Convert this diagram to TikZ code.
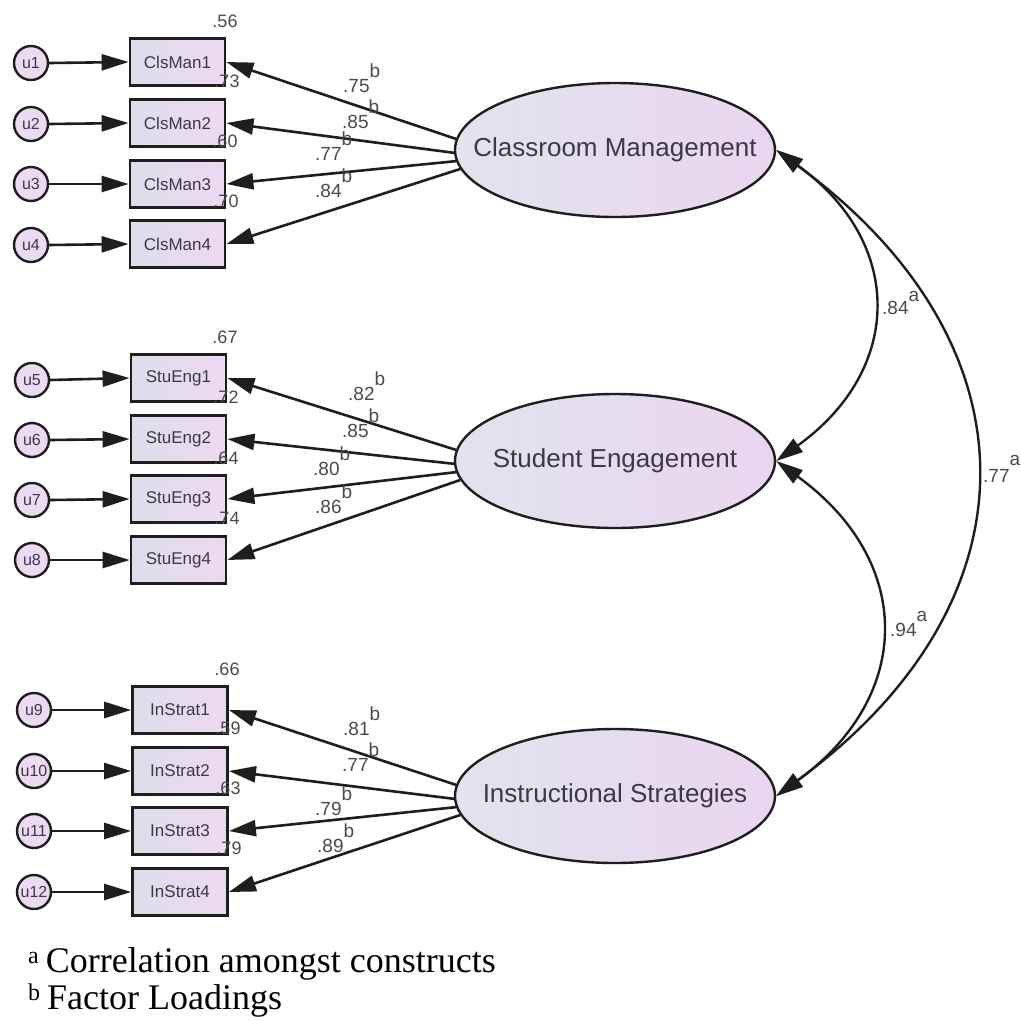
\documentclass[tikz,border=0pt]{standalone}
\usepackage{fontspec}
\setmainfont{Liberation Sans}
\newfontfamily\notefont{Liberation Serif}
\usetikzlibrary{arrows.meta,shapes.geometric}

\definecolor{inkc}{HTML}{1E1E1E}
\definecolor{txtc}{HTML}{3A3A46}
\definecolor{numc}{HTML}{4A4A4A}
\definecolor{errfill}{HTML}{EBDAF1}
\definecolor{boxl}{HTML}{DEDEEA}
\definecolor{boxr}{HTML}{EDD9F2}
\definecolor{latl}{HTML}{E2E3EC}
\definecolor{latr}{HTML}{EAD5F1}

\newcommand\upmark[2][15pt]{\raisebox{#1}{#2}}
\newcommand\zerowide[1]{\makebox[0pt]{#1}}

\begin{document}
\begin{tikzpicture}[x=1pt,y=-1pt,
  errnode/.style={circle, draw=inkc, line width=2.4pt, fill=errfill,
    minimum size=34pt, inner sep=0pt, text=txtc,
    font=\fontsize{16}{16}\selectfont},
  obsbox/.style={rectangle, draw=inkc, line width=2.8pt,
    left color=boxl, right color=boxr, minimum width=95pt,
    minimum height=47pt, inner sep=0pt, text=txtc,
    font=\fontsize{17}{17}\selectfont},
  latent/.style={ellipse, draw=inkc, line width=2.4pt,
    left color=latl, right color=latr, minimum width=320pt,
    minimum height=134pt, inner sep=0pt, text=txtc,
    font=\fontsize{26}{26}\selectfont},
  tipshape/.tip={Triangle[length=27pt,width=16pt]},
  regpath/.style={draw=inkc, line width=2.6pt, -tipshape},
  covpath/.style={draw=inkc, line width=2.4pt, tipshape-tipshape},
  rsq/.style={inner sep=0pt, text=numc, font=\fontsize{18}{18}\selectfont},
  coef/.style={inner sep=0pt, anchor=base west, text=numc,
    font=\fontsize{19}{19}\selectfont},
  note/.style={inner sep=0pt, anchor=base west, text=black,
    font=\notefont\fontsize{36}{36}\selectfont}]

\useasboundingbox[fill=white] (0,0) rectangle (1021,1021);

% ---------- latent constructs ----------
\node[latent] (cm) at (615,150) {\zerowide{Classroom Management}};
\node[latent] (se) at (615,461) {\zerowide{Student Engagement}};
\node[latent] (is) at (615,796) {\zerowide{Instructional Strategies}};

% ---------- indicators ----------
\node[obsbox] (b1) at (177.5,62)  {ClsMan1};
\node[obsbox] (b2) at (177.5,123) {ClsMan2};
\node[obsbox] (b3) at (177.5,184) {ClsMan3};
\node[obsbox] (b4) at (177.5,244) {ClsMan4};

\node[obsbox] (b5) at (178.5,378) {StuEng1};
\node[obsbox] (b6) at (178.5,439) {StuEng2};
\node[obsbox] (b7) at (178.5,499) {StuEng3};
\node[obsbox] (b8) at (178.5,560) {StuEng4};

\node[obsbox] (b9)  at (180,710) {InStrat1};
\node[obsbox] (b10) at (180,771) {InStrat2};
\node[obsbox] (b11) at (180,831) {InStrat3};
\node[obsbox] (b12) at (180,892) {InStrat4};

% ---------- error terms ----------
\node[errnode] (u1) at (31,63)  {u1};
\node[errnode] (u2) at (31,124) {u2};
\node[errnode] (u3) at (31,184) {u3};
\node[errnode] (u4) at (31,245) {u4};
\node[errnode] (u5) at (32,380) {u5};
\node[errnode] (u6) at (32,440) {u6};
\node[errnode] (u7) at (32,500) {u7};
\node[errnode] (u8) at (32,560) {u8};
\node[errnode] (u9)  at (34,710) {u9};
\node[errnode] (u10) at (34,771) {u10};
\node[errnode] (u11) at (34,831) {u11};
\node[errnode] (u12) at (34,892) {u12};

\foreach \i in {1,...,12} {
  \draw[regpath] (u\i.east) -- (b\i.west);
}

% ---------- factor loadings ----------
\draw[regpath] (cm.176) -- (b1.east);
\draw[regpath] (cm.181) -- (b2.east);
\draw[regpath] (cm.184) -- (b3.east);
\draw[regpath] (cm.187) -- (b4.east);

\draw[regpath] (se.176) -- (b5.east);
\draw[regpath] (se.181) -- (b6.east);
\draw[regpath] (se.184) -- (b7.east);
\draw[regpath] (se.187) -- (b8.east);

\draw[regpath] (is.176) -- (b9.east);
\draw[regpath] (is.181) -- (b10.east);
\draw[regpath] (is.184) -- (b11.east);
\draw[regpath] (is.187) -- (b12.east);

% ---------- correlations ----------
\draw[covpath] (cm.east) .. controls +(128,92) and +(128,-92) .. (se.east);
\draw[covpath] (se.east) .. controls +(138,100) and +(138,-100) .. (is.east);
\draw[covpath] (cm.east) .. controls +(265,194) and +(265,-194) .. (is.east);

\node[coef] (r84) at (882,314) {.84\upmark[13pt]{a}};
\node[coef] (r94) at (890,636) {.94\upmark[15pt]{a}};
\node[coef] (r77) at (983,482) {.77\upmark[17pt]{a}};

% ---------- squared multiple correlations ----------
\node[rsq] (s1)  at (225,21)  {.56};
\node[rsq] (s2)  at (227,81)  {.73};
\node[rsq] (s3)  at (225,141) {.60};
\node[rsq] (s4)  at (226,201) {.70};
\node[rsq] (s5)  at (225,337) {.67};
\node[rsq] (s6)  at (226,397) {.72};
\node[rsq] (s7)  at (226,458) {.64};
\node[rsq] (s8)  at (227,518) {.74};
\node[rsq] (s9)  at (227,669) {.66};
\node[rsq] (s10) at (228,728) {.59};
\node[rsq] (s11) at (228,788) {.63};
\node[rsq] (s12) at (229,848) {.79};

% ---------- loading values ----------
\node[coef] (l1) at (343,92)  {.75\upmark{b}};
\node[coef] (l2) at (342,128) {.85\upmark{b}};
\node[coef] (l3) at (315,160) {.77\upmark{b}};
\node[coef] (l4) at (315,197) {.84\upmark{b}};

\node[coef] (l5) at (348,400) {.82\upmark{b}};
\node[coef] (l6) at (342,437) {.85\upmark{b}};
\node[coef] (l7) at (313,475) {.80\upmark{b}};
\node[coef] (l8) at (315,513) {.86\upmark{b}};

\node[coef] (l9)  at (343,735) {.81\upmark{b}};
\node[coef] (l10) at (342,771) {.77\upmark{b}};
\node[coef] (l11) at (315,815) {.79\upmark{b}};
\node[coef] (l12) at (317,852) {.89\upmark{b}};

% ---------- notes ----------
\node[note] (n1) at (28,972)
  {\upmark[9pt]{\fontsize{24}{24}\selectfont a}\kern7pt Correlation amongst constructs};
\node[note] (n2) at (28,1009)
  {\upmark[9pt]{\fontsize{24}{24}\selectfont b}\kern7pt Factor Loadings};
\end{tikzpicture}
\end{document}
